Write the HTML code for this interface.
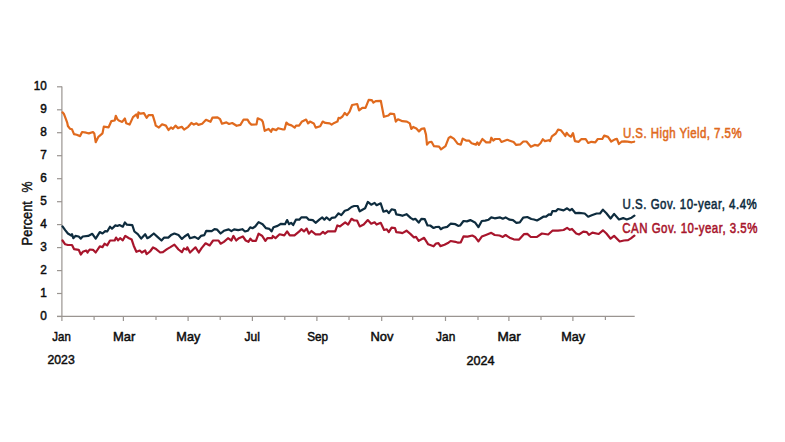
<!DOCTYPE html>
<html><head><meta charset="utf-8"><style>
html,body{margin:0;padding:0;background:#fff;width:785px;height:442px;overflow:hidden}
svg{display:block}
text{font-family:"Liberation Sans",sans-serif;font-size:13.3px;stroke-width:0.5px}
</style></head><body>
<svg width="785" height="442" viewBox="0 0 785 442">
<rect width="785" height="442" fill="#fff"/>
<g stroke="#9a9591" stroke-width="1.2" fill="none">
<line x1="61.9" y1="86.4" x2="61.9" y2="316.4"/>
<line x1="57" y1="316.4" x2="634.7" y2="316.4"/>
<line x1="57" y1="316.5" x2="62" y2="316.5"/><line x1="57" y1="293.5" x2="62" y2="293.5"/><line x1="57" y1="270.6" x2="62" y2="270.6"/><line x1="57" y1="247.6" x2="62" y2="247.6"/><line x1="57" y1="224.6" x2="62" y2="224.6"/><line x1="57" y1="201.7" x2="62" y2="201.7"/><line x1="57" y1="178.7" x2="62" y2="178.7"/><line x1="57" y1="155.7" x2="62" y2="155.7"/><line x1="57" y1="132.7" x2="62" y2="132.7"/><line x1="57" y1="109.8" x2="62" y2="109.8"/><line x1="57" y1="86.8" x2="62" y2="86.8"/>
<line x1="61.9" y1="316.4" x2="61.9" y2="321"/><line x1="94.1" y1="316.4" x2="94.1" y2="320"/><line x1="123.4" y1="316.4" x2="123.4" y2="321"/><line x1="156" y1="316.4" x2="156" y2="320"/><line x1="188.1" y1="316.4" x2="188.1" y2="321"/><line x1="220.2" y1="316.4" x2="220.2" y2="320"/><line x1="252.4" y1="316.4" x2="252.4" y2="321"/><line x1="284.8" y1="316.4" x2="284.8" y2="320"/><line x1="316.9" y1="316.4" x2="316.9" y2="321"/><line x1="349" y1="316.4" x2="349" y2="320"/><line x1="381.7" y1="316.4" x2="381.7" y2="321"/><line x1="412.7" y1="316.4" x2="412.7" y2="320"/><line x1="445.5" y1="316.4" x2="445.5" y2="321"/><line x1="478" y1="316.4" x2="478" y2="320"/><line x1="508.9" y1="316.4" x2="508.9" y2="321"/><line x1="541" y1="316.4" x2="541" y2="320"/><line x1="572.9" y1="316.4" x2="572.9" y2="321"/><line x1="605.4" y1="316.4" x2="605.4" y2="320"/>
</g>
<g fill="#0d0d0d" stroke="#0d0d0d">
<text x="46.8" y="320.0" text-anchor="end" textLength="6.6" lengthAdjust="spacingAndGlyphs">0</text><text x="46.8" y="297.0" text-anchor="end" textLength="6.6" lengthAdjust="spacingAndGlyphs">1</text><text x="46.8" y="274.1" text-anchor="end" textLength="6.6" lengthAdjust="spacingAndGlyphs">2</text><text x="46.8" y="251.1" text-anchor="end" textLength="6.6" lengthAdjust="spacingAndGlyphs">3</text><text x="46.8" y="228.1" text-anchor="end" textLength="6.6" lengthAdjust="spacingAndGlyphs">4</text><text x="46.8" y="205.2" text-anchor="end" textLength="6.6" lengthAdjust="spacingAndGlyphs">5</text><text x="46.8" y="182.2" text-anchor="end" textLength="6.6" lengthAdjust="spacingAndGlyphs">6</text><text x="46.8" y="159.2" text-anchor="end" textLength="6.6" lengthAdjust="spacingAndGlyphs">7</text><text x="46.8" y="136.2" text-anchor="end" textLength="6.6" lengthAdjust="spacingAndGlyphs">8</text><text x="46.8" y="113.3" text-anchor="end" textLength="6.6" lengthAdjust="spacingAndGlyphs">9</text><text x="46.8" y="90.3" text-anchor="end" textLength="13.0" lengthAdjust="spacingAndGlyphs">10</text>
<text x="61.6" y="341.2" text-anchor="middle" textLength="18.5" lengthAdjust="spacingAndGlyphs">Jan</text><text x="124.1" y="341.2" text-anchor="middle" textLength="22.3" lengthAdjust="spacingAndGlyphs">Mar</text><text x="188.3" y="341.2" text-anchor="middle" textLength="24.0" lengthAdjust="spacingAndGlyphs">May</text><text x="252.2" y="341.2" text-anchor="middle" textLength="15.4" lengthAdjust="spacingAndGlyphs">Jul</text><text x="317.6" y="341.2" text-anchor="middle" textLength="20.9" lengthAdjust="spacingAndGlyphs">Sep</text><text x="382" y="341.2" text-anchor="middle" textLength="23.0" lengthAdjust="spacingAndGlyphs">Nov</text><text x="445.7" y="341.2" text-anchor="middle" textLength="19.2" lengthAdjust="spacingAndGlyphs">Jan</text><text x="509.2" y="341.2" text-anchor="middle" textLength="23.4" lengthAdjust="spacingAndGlyphs">Mar</text><text x="573.2" y="341.2" text-anchor="middle" textLength="23.9" lengthAdjust="spacingAndGlyphs">May</text>
<text x="61.1" y="364" text-anchor="middle" textLength="27.2" lengthAdjust="spacingAndGlyphs">2023</text>
<text x="480.5" y="365.3" text-anchor="middle" textLength="28.1" lengthAdjust="spacingAndGlyphs">2024</text>
<text style="font-size:14px;stroke-width:0.45px" transform="translate(32.2,245.4) rotate(-90)" textLength="44.3" lengthAdjust="spacingAndGlyphs">Percent</text>
<text style="font-size:14px;stroke-width:0.45px" transform="translate(32.2,181.4) rotate(-90)" text-anchor="end" textLength="11" lengthAdjust="spacingAndGlyphs">%</text>
</g>
<g fill="none" stroke-width="2.2" stroke-linejoin="round" stroke-linecap="round">
<polyline stroke="#E06A1E" points="62.5,112.4 63.8,113.7 65.9,119.2 67.2,122.6 67.9,126 69.9,128.7 72,129.3 74,134.1 76.7,134.8 80.1,136.1 82.1,132 86.2,132.7 88.9,133.4 93,132 94.3,133.4 95.7,142.2 98.4,136.8 102.5,133.4 103.8,126.6 108.6,127.3 111.3,121.2 114.7,120.5 115.8,115.8 117.4,119.2 118.8,120.5 122.2,121.9 124.9,118.5 126.2,123.2 129.6,124.6 133,117.1 136.4,114.4 137.8,117.8 138.4,112.4 140.5,113.7 143.9,113.1 146.6,117.8 148.6,115.1 152.7,115.1 155,122.6 155.7,125.6 158.9,127.5 162.1,124.3 165.9,125.6 168.5,130 171,127.5 172.9,128.8 175.5,125.6 178,128.1 181.8,126.8 184.1,129.6 188.2,126.8 191.4,123 193.9,124.6 196.5,123.3 198.4,124.9 202.2,123.7 206,119.8 210.5,121.8 212.4,117.7 217.5,117.3 220.1,119.2 222,123.7 226.4,122.4 229,124 232.2,123 236.6,125.8 240.4,124.9 243.6,119.5 247.5,119.7 249.5,122.9 251.4,124.6 256.5,124.4 257.7,118.3 261.6,119.9 262.8,121.8 264.7,130.8 268.6,128.9 271.1,131.8 272.4,128.9 276.2,130.1 278.1,128.2 283.2,129.5 284.5,129.5 286.4,122.5 288.3,124.4 291.5,125.4 294.7,127.6 296,125.7 299.1,125.7 301.7,121.8 306.1,119.6 308.1,123.4 310,121.6 313.8,123.4 315.7,127.6 320.2,126.3 322.7,121.6 325.3,122.9 329.7,123.4 331.6,124.6 334.2,122.9 337.4,121.6 338.6,117.8 340,118.3 342.5,116.5 344.8,112.9 347,115.2 349.6,111.7 352.1,105 357.2,104 359.1,110.4 362.3,107.8 365.5,107.8 368.7,99.9 371.8,100.2 373.4,102.7 375.7,101.2 380.8,100.8 383.9,116.8 388.4,115.5 390.3,113.6 394.1,114 395.8,121.6 398,119.3 402.4,121.2 406.9,121.6 409.8,123.4 411.3,128.9 413.2,126.9 416.4,128.5 419,131.4 421.5,128.9 424.3,128.4 426,134.6 427,144.6 428.9,142.4 431.5,141.8 434,146.2 439.1,146.6 441,149.4 445.5,146.2 448.7,137.9 450.6,136.7 453.8,138.6 457.6,143.7 460.8,144.6 462.7,138.6 466.5,140.7 469,140.5 471.6,143.3 476,144.6 477.3,142.4 478.9,144.9 482.4,139 486.2,142.4 490.1,142.4 491.3,137.7 493.2,140.5 495.2,139 499.6,139 501.5,142 507.3,139.8 513.6,142 516.2,144.9 520.4,144.3 523.3,141.5 526.5,141.5 530.9,146.8 534.7,144.9 537.9,145.6 540.5,143.3 542.8,139.2 544.9,141.1 548.8,140.2 550,141.1 551.9,136.4 555.8,133.5 558.1,129.6 560.9,130.3 564,134.1 565.3,136 566.6,132.8 568.5,135.1 571,136.7 573,133.1 574.9,141.1 578.7,141.8 581.2,139.2 585.7,139.2 588.2,143 591.4,141.8 595.3,142.4 597.8,139 602.3,139 604.2,135.6 608,136.9 611.2,141.5 614.9,139.4 616.9,138.9 618.9,144 621.5,141.7 624.5,141.3 627.6,141.7 631.7,142.3 634.2,141.7"/>
<polyline stroke="#0E2C3E" points="62.5,226.4 65.2,230.1 67.9,233.5 71.3,235.5 72,234.2 73.3,238.2 75.4,235.9 78.7,236.5 80.8,238.6 82.8,236.5 88.2,235.9 92.3,233.8 95.7,238.6 99.8,232.1 102.5,233.5 105.2,231.1 107.2,231.5 110,226.7 112,228.7 115.4,225.4 117.4,226 119.5,225.1 122.8,226.7 124.9,222.4 126.9,224.7 132.3,225.1 134.4,231.5 137.8,234.2 141.2,238.6 145.2,234.2 147.3,238.2 150,236.7 153.8,233.5 157.5,236.9 161.5,240.5 164.2,237.6 168.3,237.6 171,235.1 174.4,233.5 178.5,235.1 181.9,238.9 184.6,236.5 188,234.2 190,238.2 194.8,236.9 198.2,238.9 200.9,235.9 204.3,235.1 206.3,230.8 211.7,231.1 214.5,229.2 217.2,229.7 220.6,233.5 223.9,230.8 228.7,229.4 231.4,231.1 234.1,229.4 238.2,230.1 242.3,229.2 245,231.5 247.7,230.8 250.2,227.3 252.5,228.2 255.2,226.5 258.6,222.1 262.6,224.2 266,228.2 269.4,228.9 271.5,231.4 273.5,227.3 277.6,225.9 281,223.8 285,224.2 287.1,220.1 289.1,224.2 291.1,222.8 293.2,225.1 295.9,219.7 299.3,219.7 301.3,217.4 306.7,217.4 308.8,219.7 312.8,220.1 315.6,222.8 319.6,219.4 322.3,217.4 324.4,219.7 326.4,217.4 329.8,220.1 331.8,217.8 335.2,217.4 338.6,213.3 341.3,215.1 344.8,210.8 348.1,209.7 351.5,207 354.2,206 357.6,206 359.7,211.4 362.4,209.7 365.1,208.3 367.8,201.9 371.2,204.7 374.6,202.9 376.6,205.2 380.7,203.3 383.4,211.7 386.8,210.6 388.8,213.1 391.6,209.3 395,210.1 396.3,214.4 400.4,215.1 402.4,215.8 406.5,214.2 410.6,217.8 413.3,219.6 415.3,218.8 418.7,222.6 421.4,218.8 424.8,219.2 427.5,225.5 430.2,225.5 433.6,228 436,227 439.1,226.9 440.7,229.2 443.1,227.8 447.2,226.9 450.6,223.7 455.4,224.2 458.1,225.8 460.1,225.5 463.5,221 466.9,221.4 470.3,220.1 475,222.4 478.4,227.1 481.8,221 485.2,220.6 488.6,219.7 491.3,217.4 494.7,218.3 500.1,217.4 502.8,218.7 505.6,217.4 509.6,219.7 513,220.1 516.4,222.8 519.8,222.4 523.2,217.6 527.3,217 531.3,219 534,219.5 537,220.5 540.5,218.5 543.3,216.7 546.1,216.7 548.9,214.3 551,214.9 552.4,211.1 555.9,211.1 558,209 563.6,210.4 567.1,208.3 569.9,210.4 572,209 575.5,213.2 579,212.9 584.7,213.5 588.2,216.7 591.7,215.3 596.6,213.5 600,213.5 602.9,209.7 606.4,213.2 610.6,218.5 614.1,213.9 619,219.5 623.2,218.1 626.7,219.5 631.6,217.7 634.4,215.7"/>
<polyline stroke="#A8152C" points="62.5,240.5 65.2,244.3 67.9,245 72,245 74,249.1 78.7,249.8 80.8,254.5 82.8,251.8 86.2,250.5 87.6,252.5 89.6,249.5 93,249.8 95.7,252.5 99.8,246.4 102.5,247.1 104.5,243.7 107.2,245.4 110,240.5 114.7,240.5 116.1,237.6 118.1,240.3 120.1,238.2 122.8,240.3 125.3,235.9 129,238.2 131.7,239.6 133.7,245.7 136.4,251.8 139.8,250.5 141.8,252.5 145.2,250.5 146.6,254.1 150,251.5 153,247.5 156.1,249.1 160.2,252.5 162.9,252.2 167,249.1 170.4,247.1 174.4,244.6 178.5,249.5 181.9,252.2 183.9,248.4 186.6,249.5 187.3,247.3 190,252.5 195.5,247.3 198.8,252.5 201.6,248.1 205.6,243.3 209.7,245.4 213.1,240.5 218.5,240.5 220.6,243.7 223.9,241.9 228,238.2 231.4,240.5 233.4,235.9 236.2,240.5 238.9,238.2 242.9,236.5 245.7,240.5 248.4,241.8 250.4,238.7 252.5,240.9 255.9,240.9 258.6,233.7 262,235.7 265.4,240.9 267.4,238.1 272.1,238.1 272.8,236 275.5,238.1 279.6,234.3 284.3,235.4 287.1,231.4 289.8,235.4 294.5,235.4 299.3,231.4 301.3,229.2 304,231.4 306.7,228.6 308.8,233.7 311.5,231 315.6,234.3 320.3,234.3 323,231.9 325,233.7 327.8,231.4 335.2,231.4 337.3,225.5 340,226.4 345.2,222.3 348.1,224.6 351.5,218.8 354.2,220.5 357,220.5 359.7,226.4 363.7,224.6 367.8,220.1 371.2,223.7 374.6,222.3 376.6,224.6 380.7,222.8 384.1,230 386.8,229.3 388.8,232.1 391.6,227.7 395,228 396.3,232.1 400.4,232.7 402.4,233.1 406.5,230.7 410.6,234.1 414,237.5 416,236.8 418.7,240.9 424.1,237.8 428.2,244.3 433.6,246.3 436,243.5 438.4,243.1 440.4,246.1 444.5,244.8 447.9,243.1 450.6,241 455.4,241.8 458.1,242.7 460.8,242.3 463.5,236.4 467.6,236.6 472.3,235.5 475,236.9 478.4,241.4 481.8,236.6 485.9,235 491.3,232.8 494.7,235 499.5,235.5 502.8,236.9 505.6,235 509.6,237.7 513.7,239.3 519.1,239.6 523.9,234.2 527.3,233.9 530.5,236.8 533.5,237 537,236.8 541.9,233.5 548.2,234.5 552.4,230.7 558,230.7 563.6,230 567.1,227.9 569.9,229.8 572,228.9 576.2,233.5 579,234.5 583.3,231.7 586.8,232.1 588.9,234.9 592.4,232.6 598.7,234 602.9,230.3 606.4,233.5 610.6,238.7 614.1,235.9 619.7,241.5 623.9,240.5 628.1,240.1 630.9,238.4 634.4,235.6"/>
</g>
<g transform="translate(623,137.8) scale(0.82,1)"><text style="font-size:14.0px;stroke-width:0.55px" x="0" y="0" fill="#E06A1E" stroke="#E06A1E" textLength="144.63" lengthAdjust="spacing">U.S. High Yield, 7.5%</text></g>
<g transform="translate(622.6,209.1) scale(0.82,1)"><text style="font-size:14.0px;stroke-width:0.55px" x="0" y="0" fill="#0E2C3E" stroke="#0E2C3E" textLength="163.66" lengthAdjust="spacing">U.S. Gov. 10-year, 4.4%</text></g>
<g transform="translate(622.3,233) scale(0.82,1)"><text style="font-size:14.0px;stroke-width:0.55px" x="0" y="0" fill="#A8152C" stroke="#A8152C" textLength="164.76" lengthAdjust="spacing">CAN Gov. 10-year, 3.5%</text></g>
</svg>
</body></html>
